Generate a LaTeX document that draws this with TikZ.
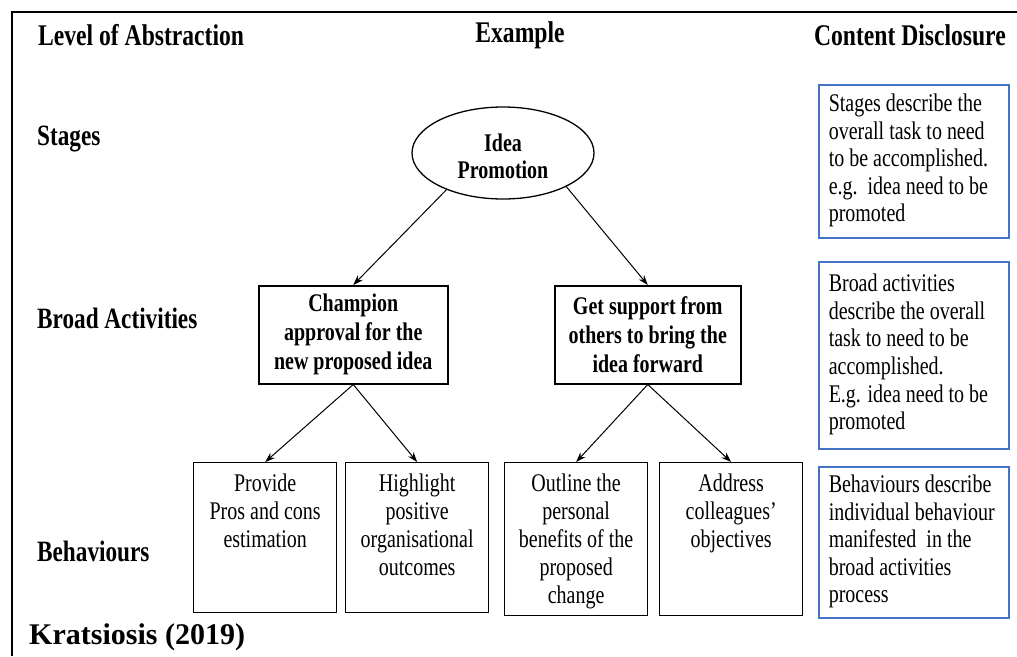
\documentclass[tikz,border=0pt]{standalone}
\usepackage{fontspec}
\setmainfont{Liberation Serif}[FakeStretch=0.787]
\newfontfamily\capfont{Liberation Serif}
\usetikzlibrary{shapes.geometric,arrows.meta}
\definecolor{noteblue}{RGB}{68,114,196}
\newcommand{\notelines}[1]{\makebox[190pt][l]{\hspace{10pt}\begin{tabular}{@{}l@{}}#1\end{tabular}}}
\begin{document}
\begin{tikzpicture}[x=1pt,y=-1pt,
  head/.style={inner sep=0, font=\fontsize{30}{32}\selectfont\bfseries},
  lvl/.style={inner sep=0, anchor=west, font=\fontsize{29.5}{32}\selectfont\bfseries},
  actbox/.style={draw, line width=1.5pt, align=center, inner sep=0,
    minimum height=98pt, anchor=north west, font=\fontsize{25.4}{29}\selectfont\bfseries},
  behbox/.style={draw, line width=1.3pt, inner sep=0, anchor=north west, minimum width=143pt},
  behtxt/.style={align=center, inner sep=0, anchor=north, font=\fontsize{25.4}{28}\selectfont},
  note/.style={draw=noteblue, line width=1.5pt, inner sep=0, anchor=north west,
    minimum width=190pt, font=\fontsize{25.4}{27.6}\selectfont},
  arr/.style={-{Stealth[length=10pt,width=7pt]}, line width=1pt}]
\useasboundingbox (0,0) rectangle (1017,656);

% outer frame (open to the right and bottom)
\draw[line width=2.5pt] (12,656) -- (12,12) -- (1017,12);

% column headings
\node[head, anchor=west] (hLevel) at (38,35) {Level of Abstraction};
\node[head] (hExample) at (520,35) {Example};
\node[head, anchor=east] (hContent) at (1006,35) {Content Disclosure};

% level labels
\node[lvl] (lStages) at (37,139) {Stages};
\node[lvl] (lBroad) at (37,318) {Broad Activities};
\node[lvl] (lBeh) at (37,551) {Behaviours};

% stage
\node[draw, ellipse, line width=1.3pt, minimum width=182pt, minimum height=92pt, inner sep=0,
  align=center, font=\fontsize{25.4}{27}\selectfont\bfseries] (idea) at (503,153) {};
\node[align=center, inner sep=0, font=\fontsize{25.4}{27}\selectfont\bfseries] (ideaT)
  at ([yshift=-3pt]idea.center) {Idea\\Promotion};

% broad activities
\node[actbox, minimum width=189pt] (champ) at (258,285) {Champion\\approval for the\\new proposed idea};
\node[actbox, minimum width=186pt] (supp) at (554,285) {Get support from\\others to bring the\\idea forward};

% behaviours
\node[behbox, minimum height=150pt] (prov) at (193,462) {};
\node[behbox, minimum height=150pt] (high) at (345,462) {};
\node[behbox, minimum height=153pt] (outl) at (504,462) {};
\node[behbox, minimum height=153pt] (addr) at (659,462) {};
\node[behtxt] (provT) at ([yshift=-12pt]prov.north) {Provide\\Pros and cons\\estimation};
\node[behtxt] (highT) at ([yshift=-12pt]high.north) {Highlight\\positive\\organisational\\outcomes};
\node[behtxt] (outlT) at ([yshift=-12pt]outl.north) {Outline the\\personal\\benefits of the\\proposed\\change};
\node[behtxt] (addrT) at ([yshift=-12pt]addr.north) {Address\\colleagues’\\objectives};

% content disclosure notes
\node[note, minimum height=153pt] (n1) at (818,84) {\notelines{Stages describe the\\overall task to need\\to be accomplished.\\e.g.\ \ idea need to be\\promoted}};
\node[note, minimum height=187pt] (n2) at (818,261) {\notelines{Broad activities\\describe the overall\\task to need to be\\accomplished.\\E.g. idea need to be\\promoted}};
\node[note, minimum height=151pt] (n3) at (818,466) {\notelines{Behaviours describe\\individual behaviour\\manifested\ \ in the\\broad activities\\process}};

% connectors
\draw[arr] (idea.213) -- (champ.north);
\draw[arr] (idea.332) -- (supp.north);
\draw[arr] (champ.south) -- (prov.north);
\draw[arr] (champ.south) -- (high.north);
\draw[arr] (supp.south) -- (outl.north);
\draw[arr] (supp.south) -- (addr.north);

% source line
\node[inner sep=0, anchor=west, font=\capfont\fontsize{30}{32}\selectfont\bfseries] (src) at (29,637) {Kratsiosis (2019)};
\end{tikzpicture}
\end{document}
